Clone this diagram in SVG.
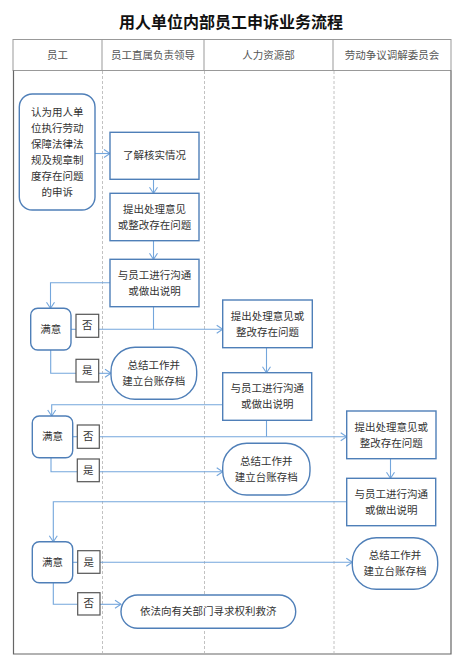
<svg xmlns="http://www.w3.org/2000/svg" width="461" height="667" viewBox="0 0 461 667">
<defs>
<style>
text{font-family:"Liberation Serif","Noto Sans CJK SC",serif;fill:#333;font-size:10.5px;text-anchor:middle;dominant-baseline:central}
.title{font-size:16px;font-weight:bold;fill:#111}
.hd{fill:#555}
.box{fill:#fff;stroke:#4f7fb8;stroke-width:1.4}
.tag{fill:#fff;stroke:#555;stroke-width:1.2}
.con{fill:none;stroke:#74a6dc;stroke-width:1.1}
.dash{stroke:#bbb;stroke-width:0.9;stroke-dasharray:3,2}
</style>
<marker id="a" markerWidth="8" markerHeight="10" refX="7" refY="5" orient="auto" markerUnits="userSpaceOnUse">
<path d="M1,1 L7,5 L1,9" fill="none" stroke="#74a6dc" stroke-width="1.1"/>
</marker>
</defs>
<rect width="461" height="667" fill="#fff"/>
<text class="title" x="231" y="22">用人单位内部员工申诉业务流程</text>
<g id="table">
<rect x="13" y="39.5" width="438" height="31" fill="none" stroke="#999" stroke-width="1"/>
<line x1="102" y1="39.5" x2="102" y2="70.5" stroke="#999"/>
<line x1="204" y1="39.5" x2="204" y2="70.5" stroke="#999"/>
<line x1="333" y1="39.5" x2="333" y2="70.5" stroke="#999"/>
<path d="M13.5,70.5 V654 H451 V70.5" fill="none" stroke="#666" stroke-width="1.2"/>
<line class="dash" x1="102.5" y1="71" x2="102.5" y2="653"/>
<line class="dash" x1="204.5" y1="71" x2="204.5" y2="653"/>
<line class="dash" x1="334" y1="71" x2="334" y2="653"/>
<text class="hd" x="57.5" y="55">员工</text>
<text class="hd" x="153" y="55">员工直属负责领导</text>
<text class="hd" x="268.5" y="55">人力资源部</text>
<text class="hd" x="392" y="55">劳动争议调解委员会</text>
</g>
<g id="connectors">
<path class="con" d="M95,153.5 H110" marker-end="url(#a)"/>
<path class="con" d="M153.5,179.3 V193.3" marker-end="url(#a)"/>
<path class="con" d="M153.5,240.7 V259.3" marker-end="url(#a)"/>
<path class="con" d="M110,282.7 H50.5 V308.3" marker-end="url(#a)"/>
<path class="con" d="M71,329.3 H76"/>
<path class="con" d="M153.5,306.7 V329.3"/>
<path class="con" d="M98.7,329.3 H222.7" marker-end="url(#a)"/>
<path class="con" d="M50.7,350 V373.3 H76"/>
<path class="con" d="M98.7,373.3 H111" marker-end="url(#a)"/>
<path class="con" d="M266.5,347.7 V372.7" marker-end="url(#a)"/>
<path class="con" d="M222.7,404.7 H51.7 V416" marker-end="url(#a)"/>
<path class="con" d="M72.7,436.7 H77.3"/>
<path class="con" d="M266.5,420.3 V436.7"/>
<path class="con" d="M99.3,436.7 H346.7" marker-end="url(#a)"/>
<path class="con" d="M51,457.7 V471.7 H77.3"/>
<path class="con" d="M99.3,471.7 H222.7" marker-end="url(#a)"/>
<path class="con" d="M390.5,458.7 V478.3" marker-end="url(#a)"/>
<path class="con" d="M346.7,501.7 H53.3 V541.7" marker-end="url(#a)"/>
<path class="con" d="M72.7,562.3 H77.7"/>
<path class="con" d="M100,562.3 H352.3" marker-end="url(#a)"/>
<path class="con" d="M53.3,582.7 V604.3 H77.7"/>
<path class="con" d="M100,604.3 H121" marker-end="url(#a)"/>
</g>
<g id="n1">
<rect class="box" x="19.3" y="94" width="75.7" height="116" rx="13"/>
<text x="57.2" y="112">认为用人单</text>
<text x="57.2" y="128">位执行劳动</text>
<text x="57.2" y="144">保障法律法</text>
<text x="57.2" y="160">规及规章制</text>
<text x="57.2" y="176">度存在问题</text>
<text x="57.2" y="192">的申诉</text>
</g>
<g id="n2">
<rect class="box" x="110" y="132.3" width="89" height="47"/>
<text x="154.5" y="155.8">了解核实情况</text>
</g>
<g id="n3">
<rect class="box" x="110" y="193.3" width="89" height="47.4"/>
<text x="154.5" y="209">提出处理意见</text>
<text x="154.5" y="225">或整改存在问题</text>
</g>
<g id="n4">
<rect class="box" x="110" y="259.3" width="89" height="47.4"/>
<text x="154.5" y="275">与员工进行沟通</text>
<text x="154.5" y="291">或做出说明</text>
</g>
<g id="s1">
<rect class="box" x="30.7" y="308.3" width="40.3" height="41.7" rx="7"/>
<text x="50.8" y="329.2">满意</text>
</g>
<g id="s1no">
<rect class="tag" x="76" y="314.3" width="22.7" height="23"/>
<text x="87.3" y="325.8">否</text>
</g>
<g id="s1yes">
<rect class="tag" x="76" y="359.3" width="22.7" height="22.7"/>
<text x="87.3" y="370.7">是</text>
</g>
<g id="n6">
<rect class="box" x="111" y="347.3" width="85.7" height="52" rx="24"/>
<text x="153.8" y="365.5">总结工作并</text>
<text x="153.8" y="381.5">建立台账存档</text>
</g>
<g id="n5">
<rect class="box" x="222.7" y="300" width="89.6" height="47.7"/>
<text x="267.5" y="316">提出处理意见或</text>
<text x="267.5" y="332">整改存在问题</text>
</g>
<g id="n7">
<rect class="box" x="222.7" y="372.7" width="89" height="47.6"/>
<text x="267.2" y="388.5">与员工进行沟通</text>
<text x="267.2" y="404.5">或做出说明</text>
</g>
<g id="s2">
<rect class="box" x="32.3" y="416" width="40.4" height="41.7" rx="7"/>
<text x="52.5" y="436.8">满意</text>
</g>
<g id="s2no">
<rect class="tag" x="77.3" y="425" width="22" height="23.3"/>
<text x="88.3" y="436.7">否</text>
</g>
<g id="s2yes">
<rect class="tag" x="77.3" y="459" width="22" height="22.7"/>
<text x="88.3" y="470.4">是</text>
</g>
<g id="n9">
<rect class="box" x="222.7" y="443.3" width="87.3" height="51.7" rx="24"/>
<text x="266.3" y="461.2">总结工作并</text>
<text x="266.3" y="477.2">建立台账存档</text>
</g>
<g id="n8">
<rect class="box" x="346.7" y="411" width="89.3" height="47.7"/>
<text x="391.3" y="427">提出处理意见或</text>
<text x="391.3" y="443">整改存在问题</text>
</g>
<g id="n10">
<rect class="box" x="346.7" y="478.3" width="89" height="47.4"/>
<text x="391.2" y="494">与员工进行沟通</text>
<text x="391.2" y="510">或做出说明</text>
</g>
<g id="s3">
<rect class="box" x="32.3" y="541.7" width="40.4" height="41" rx="7"/>
<text x="52.5" y="562.2">满意</text>
</g>
<g id="s3yes">
<rect class="tag" x="77.7" y="550.7" width="22.3" height="22.6"/>
<text x="88.8" y="562">是</text>
</g>
<g id="s3no">
<rect class="tag" x="77.7" y="592.7" width="22.3" height="22.3"/>
<text x="88.8" y="603.8">否</text>
</g>
<g id="n11">
<rect class="box" x="352.3" y="537.7" width="85.4" height="51.6" rx="24"/>
<text x="395" y="555.5">总结工作并</text>
<text x="395" y="571.5">建立台账存档</text>
</g>
<g id="n12">
<rect class="box" x="121" y="595" width="174.7" height="33.3" rx="16.6"/>
<text x="208.3" y="611.7">依法向有关部门寻求权利救济</text>
</g>
</svg>
